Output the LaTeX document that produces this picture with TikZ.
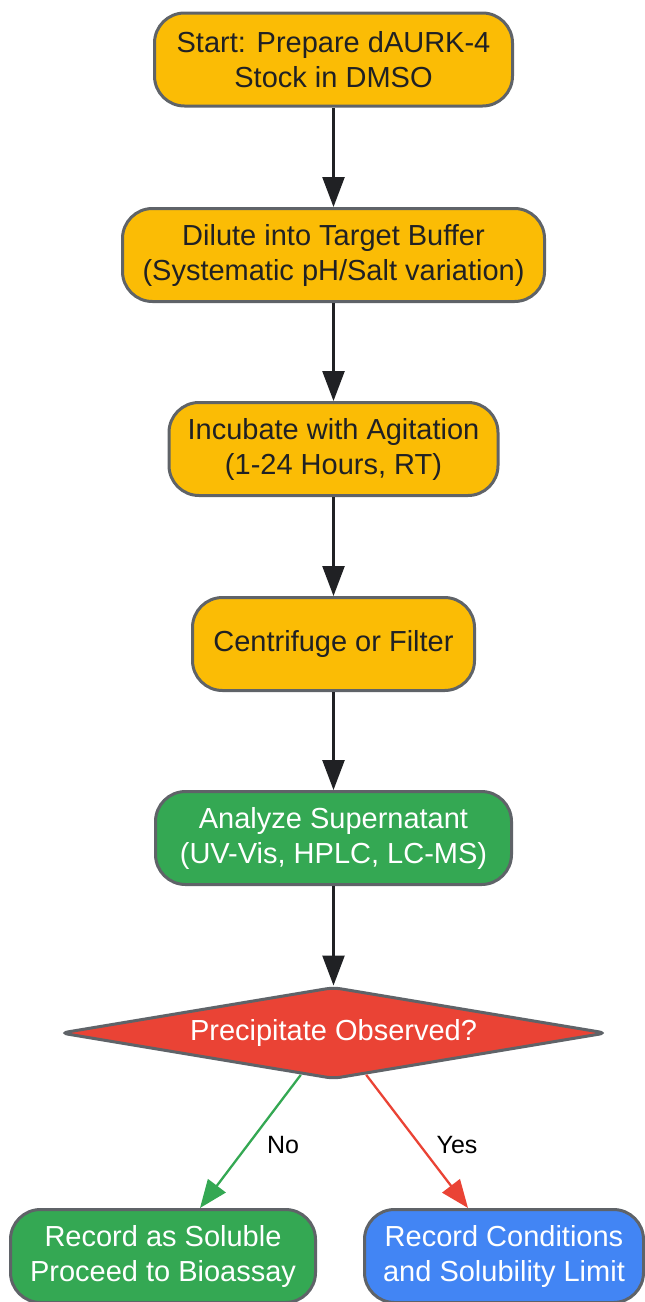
\documentclass[tikz,border=0pt]{standalone}
\usepackage{fontspec}
\setmainfont{Liberation Sans}
\usetikzlibrary{shapes.geometric,arrows.meta,calc}
\definecolor{gyellow}{HTML}{FBBC05}
\definecolor{ggreen}{HTML}{34A853}
\definecolor{gred}{HTML}{EA4335}
\definecolor{gblue}{HTML}{4285F4}
\definecolor{gborder}{HTML}{5F6368}
\definecolor{gtext}{HTML}{202124}
\begin{document}
\begin{tikzpicture}[x=1pt,y=-1pt,
	box/.style={draw=gborder,line width=3pt,rounded corners=30pt,align=center,inner sep=0pt,minimum height=93pt,font=\fontsize{29}{35}\selectfont},
	prep/.style={box,fill=gyellow,text=gtext},
	flow/.style={draw=gtext,line width=2.5pt,-{Triangle[length=30pt,width=22pt]}},
	branch/.style={line width=2.3pt,-{Triangle[length=28pt,width=22pt]}},
	lbl/.style={font=\fontsize{25}{30}\selectfont,text=black}]
	\useasboundingbox (0,0) rectangle (645,1302);
	\node [prep,minimum width=358pt] (start) at (333.5,59.5) {Start: Prepare dAURK-4\\Stock in DMSO};
	\node [prep,minimum width=422pt] (dilute) at (333.5,255) {Dilute into Target Buffer\\(Systematic pH/Salt variation)};
	\node [prep,minimum width=329pt] (incub) at (333.5,449) {Incubate with Agitation\\(1-24 Hours, RT)};
	\node [prep,minimum width=282pt] (centri) at (333.5,644) {Centrifuge or Filter};
	\node [box,fill=ggreen,text=white,minimum width=356pt] (analyze) at (333.5,838) {Analyze Supernatant\\(UV-Vis, HPLC, LC-MS)};
	\node [diamond,draw=gborder,line width=3pt,rounded corners=7pt,fill=gred,text=white,inner sep=0pt,aspect=6,
		minimum width=546pt,minimum height=92pt,font=\fontsize{29}{35}\selectfont] (precip) at (333.5,1033) {Precipitate Observed?};
	\node [box,fill=ggreen,text=white,minimum width=305pt] (soluble) at (163,1256) {Record as Soluble\\Proceed to Bioassay};
	\node [box,fill=gblue,text=white,minimum width=279pt] (limit) at (504,1256) {Record Conditions\\and Solubility Limit};
	% main chain
	\draw [flow] (start) -- (dilute);
	\draw [flow] (dilute) -- (incub);
	\draw [flow] (incub) -- (centri);
	\draw [flow] (centri) -- (analyze);
	\draw [flow] (analyze) -- (precip);
	% decision
	\draw [branch,draw=ggreen,fill=ggreen] (precip.-128) -- ($(soluble.north)+(37,0)$);
	\draw [branch,draw=gred,fill=gred] (precip.-52) -- ($(limit.north)+(-36,0)$);
	\node [lbl] (nolbl) at (283,1145) {No};
	\node [lbl] (yeslbl) at (457,1145) {Yes};
\end{tikzpicture}
\end{document}
